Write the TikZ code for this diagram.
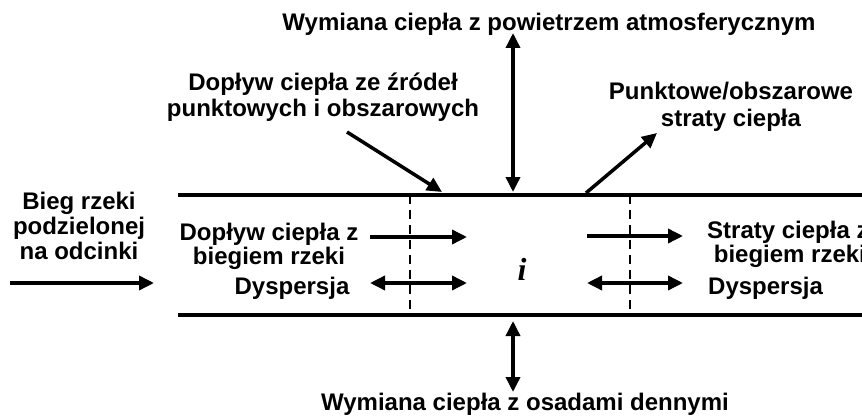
\documentclass[tikz,border=0pt]{standalone}
\usepackage{fontspec}
\setmainfont{Liberation Sans}
\newfontfamily\segfont{Liberation Serif}
\usetikzlibrary{positioning,arrows.meta}

\begin{document}
\begin{tikzpicture}[x=1pt, y=-1pt,
  font=\fontsize{24}{25}\selectfont\bfseries,
  lbl/.style={align=center, inner sep=0pt},
  lbll/.style={align=left, inner sep=0pt},
  river/.style={line width=3.8pt},
  cut/.style={line width=2.6pt, dash pattern=on 9pt off 6pt},
  ar/.style={line width=3.5pt, -{Triangle[length=15pt,width=14pt]}},
  dar/.style={line width=3.5pt, {Triangle[length=15pt,width=14pt]}-{Triangle[length=15pt,width=14pt]}}]
\useasboundingbox (0,0) rectangle (862,417);
\clip (0,0) rectangle (862,417);
% river banks and segment borders
\coordinate (tl) at (178,195); \coordinate (tr) at (870,195);
\coordinate (bl) at (178,315); \coordinate (br) at (870,315);
\draw[river] (tl) -- (tr);
\draw[river] (bl) -- (br);
\coordinate (c1t) at (410,195); \coordinate (c1b) at (410,315);
\coordinate (c2t) at (630,195); \coordinate (c2b) at (630,315);
\draw[cut] (c1t) -- (c1b);
\draw[cut] (c2t) -- (c2b);
% labels
\node[lbl, anchor=base] (atm) at (549,31) {Wymiana ciepła z powietrzem atmosferycznym};
\node[lbl] (src) at (323,97.5) {Dopływ ciepła ze źródeł\\[1pt]punktowych i obszarowych};
\node[lbl] (loss) at (731,107) {Punktowe/obszarowe\\[2pt]straty ciepła};
\node[lbl] (bieg) at (79,226) {Bieg rzeki\\podzielonej\\na odcinki};
\node[lbl] (inflow) at (269,246.5) {Dopływ ciepła z\\[-1pt]biegiem rzeki};
\node[lbl, anchor=base] (dyspL) at (292,294) {Dyspersja};
\node[lbll, anchor=west] (outflow) at (707,244.5) {Straty ciepła z\\[-1pt]\ biegiem rzeki};
\node[lbll, anchor=base west] (dyspR) at (708,294) {Dyspersja};
\node[lbl, anchor=base, font=\fontsize{32}{32}\segfont\bfseries\itshape] (seg) at (522,280) {i};
\node[lbl, anchor=base] (sed) at (525,410) {Wymiana ciepła z osadami dennymi};
% arrows
\coordinate (b0) at (10,283);  \coordinate (b1) at (154,283);
\coordinate (f0) at (370,237); \coordinate (f1) at (467,237);
\coordinate (d0) at (370,283); \coordinate (d1) at (467,283);
\coordinate (g0) at (587,236); \coordinate (g1) at (683,236);
\coordinate (e0) at (587,283); \coordinate (e1) at (683,283);
\coordinate (s0) at (347,132); \coordinate (s1) at (442,192);
\coordinate (l0) at (586,193); \coordinate (l1) at (657,133);
\coordinate (a0) at (513,33);  \coordinate (a1) at (513,192);
\coordinate (o0) at (513,321); \coordinate (o1) at (513,392);
\foreach \a/\b in {b0/b1, f0/f1, g0/g1, s0/s1, l0/l1}
  \draw[ar] (\a) -- (\b);
\foreach \a/\b in {d0/d1, e0/e1, a0/a1, o0/o1}
  \draw[dar] (\a) -- (\b);
\end{tikzpicture}
\end{document}
